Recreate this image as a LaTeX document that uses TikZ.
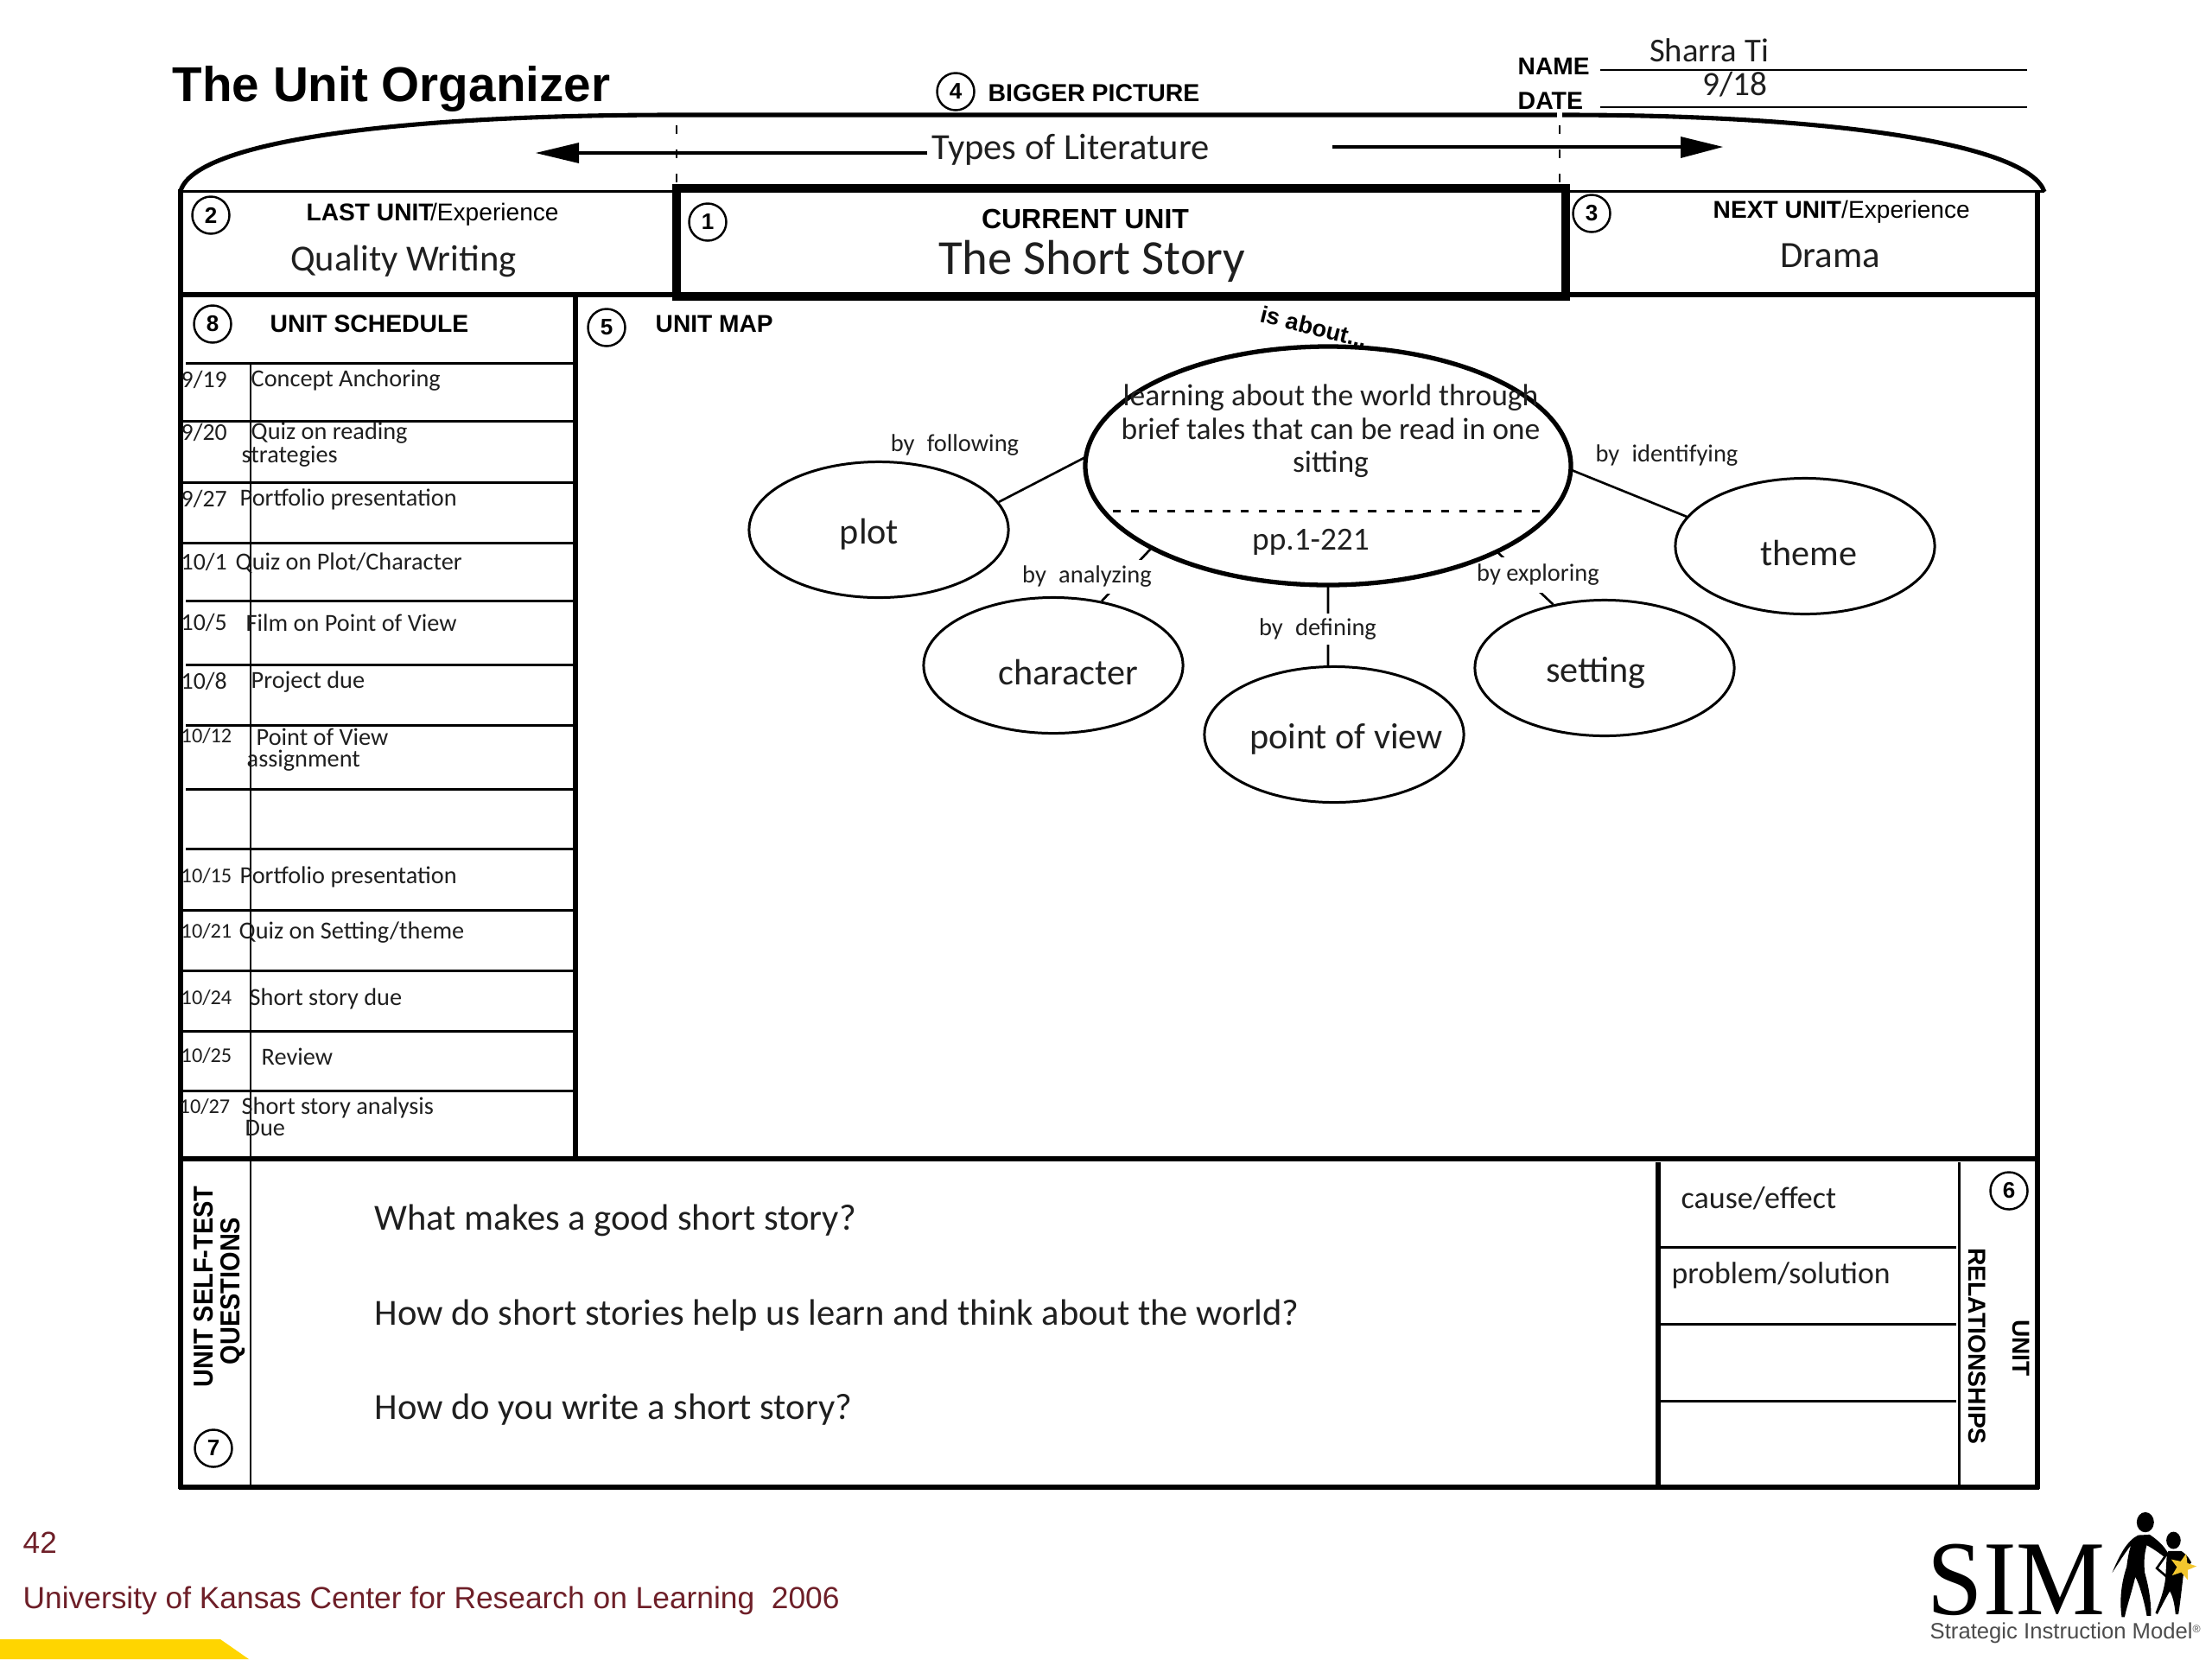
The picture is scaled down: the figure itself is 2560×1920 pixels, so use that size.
\documentclass[tikz,border=0pt]{standalone}
\usepackage{fontspec}
\setmainfont{Liberation Sans}
\newfontfamily\carl{Carlito}
\newfontfamily\serifl{Liberation Serif}
\usetikzlibrary{shapes.geometric,calc}
\definecolor{maroonf}{HTML}{6E1F28}
\definecolor{simyellow}{HTML}{FFD500}
\definecolor{stary}{HTML}{F2C62E}
\tikzset{
 ar/.style={inner sep=0pt,font=\fontsize{#1}{#1}\selectfont},
 arb/.style={inner sep=0pt,font=\bfseries\fontsize{#1}{#1}\selectfont},
 cl/.style={inner sep=0pt,text=black!88,font=\carl\fontsize{#1}{#1}\selectfont},
 num/.style={draw,circle,line width=.7pt,minimum size=.43cm,inner sep=0pt,font=\bfseries\fontsize{7.4}{7.4}\selectfont},
 frame/.style={line width=1.45pt},
 thinl/.style={line width=.85pt},
 bubble/.style={draw,ellipse,line width=.85pt,minimum width=3cm,minimum height=1.57cm,inner sep=0pt},
 conn/.style={line width=.75pt},
 linklab/.style={inner sep=0pt,fill=white,text=black!88,font=\carl\fontsize{8.1}{8.1}\selectfont},
 dat/.style={cl=7.9,anchor=west},
 dats/.style={cl=6.9,anchor=west},
 sch/.style={cl=8.05,anchor=west,yshift=-.012cm},
}
\begin{document}
\begin{tikzpicture}[x=.01cm,y=-.01cm]
\useasboundingbox (0,0) rectangle (2560,1920);
% footer band
\fill[simyellow] (0,1897) -- (255,1897) -- (288,1920) -- (0,1920) -- cycle;
% frame
\draw[frame] (2366,222) .. controls (2348,168) and (2130,133) .. (1810,133) -- (780,133) .. controls (450,133) and (225,165) .. (209,221);
\draw[line width=1.5pt,white] (1805,130) -- (1805,137);
\draw[thinl] (209,221) -- (783,221) (1812,221) -- (2366,221);
\draw[frame] (209,219) -- (209,1723);
\draw[frame] (2358,221) -- (2358,1723);
\draw[frame] (209,341) -- (2358,341);
\draw[frame] (209,1341) -- (2358,1341);
\draw[line width=1.7pt] (207,1721) -- (2360,1721);
\draw[frame] (666,341) -- (666,1341);
\draw[thinl] (290,420) -- (290,1721);
\draw[frame] (1919,1345) -- (1919,1721);
\draw[thinl] (2267,1345) -- (2267,1719);
\foreach \yy in {1443,1532,1621} \draw[thinl] (1922,\yy) -- (2264,\yy);
% schedule rules
\foreach \yy in {420,695,769,839,913,982} \draw[thinl] (215,\yy) -- (663,\yy);
\foreach \yy in {487,558,628,1053,1123,1193,1262} \draw[thinl] (211,\yy) -- (663,\yy);
% dashed limits
\draw[line width=.8pt,dash pattern=on 2.8pt off 5.2pt] (783,145) -- (783,216);
\draw[line width=.8pt,dash pattern=on 2.8pt off 5.2pt] (1805,145) -- (1805,216);
% current unit box
\draw[line width=2.9pt] (783,218) rectangle (1812,343);
% bigger-picture arrows
\coordinate (arL) at (1073,177);
\coordinate (arLb) at (670,177);
\coordinate (arR) at (1542,170);
\coordinate (arRb) at (1945,170);
\draw[line width=1.35pt] (arL) -- (arLb);
\fill (620,177) -- (670,165) -- (670,189) -- cycle;
\draw[line width=1.35pt] (arR) -- (arRb);
\fill (1994,170) -- (1945,158) -- (1945,183) -- cycle;
% name/date
\draw[line width=.8pt] (1852,81) -- (2346,81) (1852,124) -- (2346,124);
\node[arb=8,anchor=west] (name) at (1756,77) {NAME};
\node[arb=8.1,anchor=west] (date) at (1756,117) {DATE};
\node[cl=11] (sharra) at (1978,58) {Sharra Ti};
\node[cl=11.2] (dateval) at (2008,98) {9/18};
% title
\node[arb=16.1,anchor=west] (title) at (199,103) {The Unit Organizer};
\node[num] (n4) at (1106,106) {4};
\node[arb=8.08,anchor=west] (bigger) at (1143,108) {BIGGER PICTURE};
\node[cl=12.1] (types) at (1239,173) {Types of Literature};
% top row
\node[num] (n2) at (244,249) {2};
\node[anchor=west,ar=8] (last) at (354,248) {\textbf{LAST UNIT}\kern-1pt/Experience};
\node[cl=12.1] (qw) at (467,302) {Quality Writing};
\node[num] (n1) at (819,257) {1};
\node[arb=9.1] (cur) at (1256,253) {CURRENT UNIT};
\node[cl=16.1] (story) at (1264,302) {The Short Story};
\node[num] (n3) at (1842,247) {3};
\node[anchor=west,ar=8] (next) at (1982,245) {\textbf{NEXT UNIT}/Experience};
\node[cl=12.2] (drama) at (2118,296) {Drama};
% schedule
\node[num] (n8) at (246,375) {8};
\node[arb=8.05,anchor=west] (schedh) at (312,375) {UNIT SCHEDULE};
\node[dat] (d1) at (209,439) {9/19};
\node[sch] (t1) at (290,439) {Concept Anchoring};
\node[dat] (d2) at (209,500) {9/20};
\node[sch] (t2) at (290,500) {Quiz on reading};
\node[sch] (t2b) at (279,527) {strategies};
\node[dat] (d3) at (209,577) {9/27};
\node[sch] (t3) at (277,577) {Portfolio presentation};
\node[dat] (d4) at (209,650) {10/1};
\node[sch] (t4) at (272,650) {Quiz on Plot/Character};
\node[dat] (d5) at (209,720) {10/5};
\node[sch] (t5) at (284,720) {Film on Point of View};
\node[dat] (d6) at (209,788) {10/8};
\node[sch] (t6) at (290,788) {Project due};
\node[dats] (d7) at (209,852) {10/12};
\node[sch] (t7) at (296,852) {Point of View};
\node[sch] (t7b) at (285,879) {assignment};
\node[dats] (d8) at (209,1014) {10/15};
\node[sch] (t8) at (277,1014) {Portfolio presentation};
\node[dats] (d9) at (209,1078) {10/21};
\node[sch] (t9) at (276,1078) {Quiz on Setting/theme};
\node[dats] (d10) at (209,1155) {10/24};
\node[sch] (t10) at (288,1155) {Short story due};
\node[dats] (d11) at (209,1222) {10/25};
\node[sch] (t11) at (302,1222) {Review};
\node[dats] (d12) at (207,1281) {10/27};
\node[sch] (t12) at (279,1281) {Short story analysis};
\node[sch] (t12b) at (283,1304) {Due};
% map
\node[num] (n5) at (702,379) {5};
\node[arb=8,anchor=west] (maph) at (758,375) {UNIT MAP};
\node[arb=7.7,rotate=-14] (about) at (1521,378) {is about...};
\node[ellipse,minimum width=5.62cm,minimum height=2.76cm,inner sep=0pt] (main) at (1537,539) {};
\node[bubble] (plot) at (1017,613) {};
\node[bubble] (theme) at (2089,632) {};
\node[bubble] (char) at (1219,770) {};
\node[bubble] (sett) at (1857,773) {};
\node[bubble] (pov) at (1544,850) {};
\draw[conn] (plot.13) -- (main.178);
\draw[conn] (theme.166) -- (main.-1);
\draw[conn] (char.53) -- (main.205);
\draw[conn] (sett.129) -- (main.-27);
\draw[conn] (pov.95) -- (main.270);
\node[linklab] (lfol) at (1105,515) {by\enspace following};
\node[linklab] (lid) at (1929,527) {by\enspace identifying};
\node[linklab,minimum height=.39cm,minimum width=1.52cm] (lan) at (1258,667) {by\enspace analyzing};
\node[linklab,minimum height=.41cm,minimum width=1.4cm] (lex) at (1780,665) {by exploring};
\node[linklab,minimum height=.36cm] (lde) at (1525,728) {by\enspace defining};
\draw[line width=1.5pt] (main.center) ellipse [x radius=281,y radius=138];
\node[align=center,inner sep=0pt,text=black!88,font=\carl\fontsize{10.1}{10.9}\selectfont] (maintxt) at (1540,499) {learning about the world through\\brief tales that can be read in one\\sitting};
\draw[line width=.85pt,dash pattern=on 2.6pt off 3.4pt] (1288,591) -- (1787,591);
\node[cl=10.6] (pages) at (1517,627) {pp.1-221};
\node[cl=12] (plott) at (1006,618) {plot};
\node[cl=12] (themet) at (2093,640) {theme};
\node[cl=12] (chart) at (1236,778) {character};
\node[cl=12] (settt) at (1847,779) {setting};
\node[cl=12] (povt) at (1558,855) {point of view};
% self-test
\node[arb=9,rotate=90] (st1) at (236,1489) {\scalebox{.915}[1]{UNIT SELF-TEST}};
\node[arb=9,rotate=90] (st2) at (270,1494) {\scalebox{.915}[1]{QUESTIONS}};
\node[num] (n7) at (247,1676) {7};
\node[cl=12.1,anchor=west] (q1) at (433,1412) {What makes a good short story?};
\node[cl=12.1,anchor=west] (q2) at (433,1522) {How do short stories help us learn and think about the world?};
\node[cl=12.1,anchor=west] (q3) at (433,1631) {How do you write a short story?};
% relationships
\node[cl=10.25,anchor=west] (re1) at (1945,1387) {cause/effect};
\node[cl=10.15,anchor=west] (re2) at (1934,1476) {problem/solution};
\node[num] (n6) at (2325,1378) {6};
\node[arb=8.05,rotate=-90] (ur1) at (2288,1558) {RELATIONSHIPS};
\node[arb=8,rotate=-90] (ur2) at (2339,1560) {UNIT};
% footer
\node[ar=10,text=maroonf,anchor=west] (pg) at (26,1785) {42};
\node[ar=10.05,text=maroonf,anchor=west] (ku) at (26,1852) {University of Kansas Center for Research on Learning\ \ 2006};
% logo
\node[inner sep=0pt,anchor=base west,font=\serifl\fontsize{35}{35}\selectfont] (sim) at (2230,1868) {\scalebox{.94}[1]{SIM}};
\node[ar=7.3,text=black!70,anchor=west] (simt) at (2233,1890) {Strategic Instruction Model\raisebox{.5ex}{\fontsize{3.5}{4}\selectfont ®}};
\begin{scope}[shift={(2160,1700)},x=.003333cm,y=-.003333cm]
\fill (970,185) ellipse [x radius=30,y radius=35];
\fill (855,360) .. controls (880,300) and (905,250) .. (945,230) -- (985,228)
 .. controls (1010,245) and (1035,265) .. (1050,295) -- (1035,305)
 .. controls (1010,285) and (985,270) .. (975,265)
 .. controls (965,300) and (965,330) .. (968,360)
 .. controls (985,420) and (990,470) .. (990,510) -- (975,510)
 .. controls (965,450) and (945,390) .. (935,375)
 .. controls (925,420) and (905,480) .. (898,515) -- (888,515)
 .. controls (880,460) and (885,400) .. (905,340)
 .. controls (910,300) and (915,280) .. (920,265)
 .. controls (900,290) and (875,330) .. (855,360) -- cycle;
\fill (1068,248) ellipse [x radius=25,y radius=30];
\fill (1050,285) -- (1095,285) .. controls (1110,295) and (1120,305) .. (1130,325) -- (1105,350)
 .. controls (1100,380) and (1095,440) .. (1085,505) -- (1075,505)
 .. controls (1072,470) and (1065,440) .. (1055,425)
 .. controls (1040,450) and (1025,480) .. (1012,505) -- (1005,500)
 .. controls (1025,450) and (1035,420) .. (1040,380) -- (1045,295) -- cycle;
\draw[line width=.75pt] (1045,295) -- (1010,345) -- (1045,375);
\fill[stary] (1112,294) -- (1116,327) -- (1148,338) -- (1117,351) -- (1117,385) -- (1095,359) -- (1063,370) -- (1080,341) -- (1060,314) -- (1093,321) -- cycle;
\end{scope}
\end{tikzpicture}
\end{document}
